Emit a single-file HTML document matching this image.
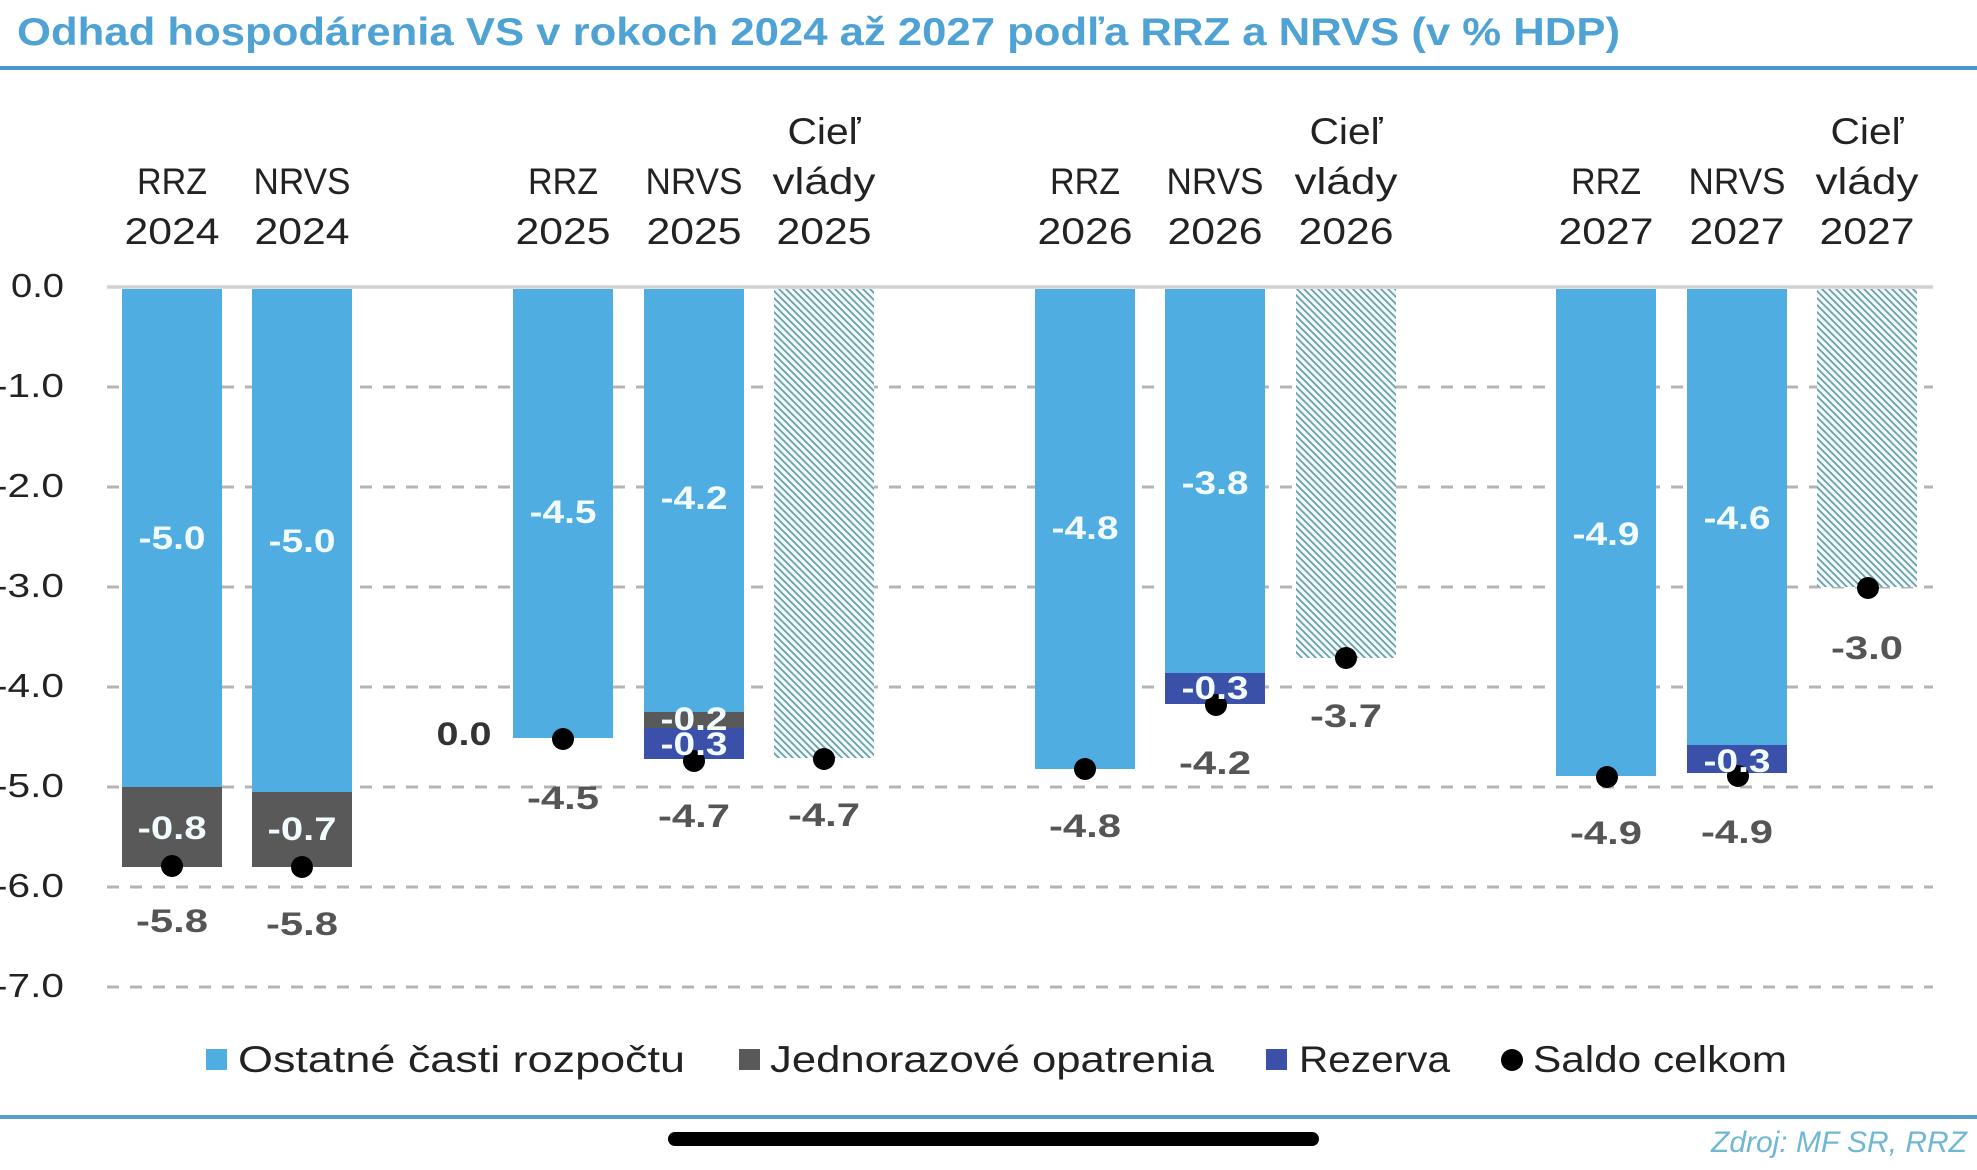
<!DOCTYPE html>
<html><head><meta charset="utf-8"><style>
html,body{margin:0;padding:0;background:#fff;}
svg{display:block;font-family:"Liberation Sans",sans-serif;}
</style></head><body>
<svg width="1977" height="1170" viewBox="0 0 1977 1170" xmlns="http://www.w3.org/2000/svg">
<defs>
<pattern id="hatch" patternUnits="userSpaceOnUse" width="7" height="7">
<rect width="7" height="7" fill="#effafc"/>
<path d="M-1,-1 L8,8 M-1,6 L1,8 M6,-1 L8,1" stroke="#6f9ea6" stroke-width="1.8"/>
</pattern>
</defs>
<rect width="1977" height="1170" fill="#fff"/>
<!-- Title -->
<text x="17" y="45" font-size="39" font-weight="bold" fill="#4ea2d4" textLength="1603" lengthAdjust="spacingAndGlyphs">Odhad hospodárenia VS v rokoch 2024 až 2027 podľa RRZ a NRVS (v % HDP)</text>
<rect x="0" y="66" width="1977" height="4" fill="#4a96c9"/>

<!-- Category labels -->
<g font-size="37" fill="#222" text-anchor="middle">
<text x="172" y="194" textLength="70" lengthAdjust="spacingAndGlyphs">RRZ</text>
<text x="172" y="244" textLength="95" lengthAdjust="spacingAndGlyphs">2024</text>
<text x="302" y="194" textLength="97" lengthAdjust="spacingAndGlyphs">NRVS</text>
<text x="302" y="244" textLength="95" lengthAdjust="spacingAndGlyphs">2024</text>

<text x="563" y="194" textLength="70" lengthAdjust="spacingAndGlyphs">RRZ</text>
<text x="563" y="244" textLength="95" lengthAdjust="spacingAndGlyphs">2025</text>
<text x="694" y="194" textLength="97" lengthAdjust="spacingAndGlyphs">NRVS</text>
<text x="694" y="244" textLength="95" lengthAdjust="spacingAndGlyphs">2025</text>
<text x="824" y="144" textLength="73" lengthAdjust="spacingAndGlyphs">Cieľ</text>
<text x="824" y="194" textLength="103" lengthAdjust="spacingAndGlyphs">vlády</text>
<text x="824" y="244" textLength="95" lengthAdjust="spacingAndGlyphs">2025</text>

<text x="1085" y="194" textLength="70" lengthAdjust="spacingAndGlyphs">RRZ</text>
<text x="1085" y="244" textLength="95" lengthAdjust="spacingAndGlyphs">2026</text>
<text x="1215" y="194" textLength="97" lengthAdjust="spacingAndGlyphs">NRVS</text>
<text x="1215" y="244" textLength="95" lengthAdjust="spacingAndGlyphs">2026</text>
<text x="1346" y="144" textLength="73" lengthAdjust="spacingAndGlyphs">Cieľ</text>
<text x="1346" y="194" textLength="103" lengthAdjust="spacingAndGlyphs">vlády</text>
<text x="1346" y="244" textLength="95" lengthAdjust="spacingAndGlyphs">2026</text>

<text x="1606" y="194" textLength="70" lengthAdjust="spacingAndGlyphs">RRZ</text>
<text x="1606" y="244" textLength="95" lengthAdjust="spacingAndGlyphs">2027</text>
<text x="1737" y="194" textLength="97" lengthAdjust="spacingAndGlyphs">NRVS</text>
<text x="1737" y="244" textLength="95" lengthAdjust="spacingAndGlyphs">2027</text>
<text x="1867" y="144" textLength="73" lengthAdjust="spacingAndGlyphs">Cieľ</text>
<text x="1867" y="194" textLength="103" lengthAdjust="spacingAndGlyphs">vlády</text>
<text x="1867" y="244" textLength="95" lengthAdjust="spacingAndGlyphs">2027</text>
</g>

<!-- Y axis labels -->
<g font-size="33" fill="#222" text-anchor="end">
<text x="64" y="297" textLength="53" lengthAdjust="spacingAndGlyphs">0.0</text>
<text x="64" y="397" textLength="70" lengthAdjust="spacingAndGlyphs">-1.0</text>
<text x="64" y="497" textLength="70" lengthAdjust="spacingAndGlyphs">-2.0</text>
<text x="64" y="597" textLength="70" lengthAdjust="spacingAndGlyphs">-3.0</text>
<text x="64" y="697" textLength="70" lengthAdjust="spacingAndGlyphs">-4.0</text>
<text x="64" y="797" textLength="70" lengthAdjust="spacingAndGlyphs">-5.0</text>
<text x="64" y="897" textLength="70" lengthAdjust="spacingAndGlyphs">-6.0</text>
<text x="64" y="997" textLength="70" lengthAdjust="spacingAndGlyphs">-7.0</text>
</g>

<!-- Gridlines -->
<line x1="107" y1="287" x2="1933" y2="287" stroke="#d2d2d2" stroke-width="3.5"/>
<g stroke="#b4b4b4" stroke-width="3" stroke-dasharray="12 11">
<line x1="107" y1="387" x2="1933" y2="387"/>
<line x1="107" y1="487" x2="1933" y2="487"/>
<line x1="107" y1="587" x2="1933" y2="587"/>
<line x1="107" y1="687" x2="1933" y2="687"/>
<line x1="107" y1="787" x2="1933" y2="787"/>
<line x1="107" y1="887" x2="1933" y2="887"/>
<line x1="107" y1="987" x2="1933" y2="987"/>
</g>

<!-- Bars -->
<g>
<rect x="122" y="289" width="100" height="498" fill="#4fade2"/>
<rect x="122" y="787" width="100" height="80" fill="#595959"/>
<rect x="252" y="289" width="100" height="503" fill="#4fade2"/>
<rect x="252" y="792" width="100" height="75" fill="#595959"/>
<rect x="513" y="289" width="100" height="449" fill="#4fade2"/>
<rect x="644" y="289" width="100" height="423" fill="#4fade2"/>
<rect x="644" y="712" width="100" height="16" fill="#595959"/>
<rect x="644" y="728" width="100" height="31" fill="#3b50a8"/>
<rect x="774" y="289" width="100" height="469" fill="url(#hatch)"/>
<rect x="1035" y="289" width="100" height="480" fill="#4fade2"/>
<rect x="1165" y="289" width="100" height="384" fill="#4fade2"/>
<rect x="1165" y="673" width="100" height="31" fill="#3b50a8"/>
<rect x="1296" y="289" width="100" height="369" fill="url(#hatch)"/>
<rect x="1556" y="289" width="100" height="487" fill="#4fade2"/>
<rect x="1687" y="289" width="100" height="456" fill="#4fade2"/>
<rect x="1687" y="745" width="100" height="28" fill="#3b50a8"/>
<rect x="1817" y="289" width="100" height="298" fill="url(#hatch)"/>
</g>

<!-- Inner labels -->
<g font-size="32" font-weight="bold" fill="#f2fcff" text-anchor="middle">
<text x="172" y="549" textLength="67" lengthAdjust="spacingAndGlyphs">-5.0</text>
<text x="302" y="552" textLength="67" lengthAdjust="spacingAndGlyphs">-5.0</text>
<text x="563" y="523" textLength="67" lengthAdjust="spacingAndGlyphs">-4.5</text>
<text x="694" y="509" textLength="67" lengthAdjust="spacingAndGlyphs">-4.2</text>
<text x="1085" y="539" textLength="67" lengthAdjust="spacingAndGlyphs">-4.8</text>
<text x="1215" y="494" textLength="67" lengthAdjust="spacingAndGlyphs">-3.8</text>
<text x="1606" y="545" textLength="67" lengthAdjust="spacingAndGlyphs">-4.9</text>
<text x="1737" y="529" textLength="67" lengthAdjust="spacingAndGlyphs">-4.6</text>
<text x="172" y="839" textLength="69" lengthAdjust="spacingAndGlyphs">-0.8</text>
<text x="302" y="840" textLength="69" lengthAdjust="spacingAndGlyphs">-0.7</text>
</g>

<!-- Dots -->
<g fill="#000">
<circle cx="172" cy="866" r="11"/>
<circle cx="302" cy="867" r="11"/>
<circle cx="563" cy="739" r="11"/>
<circle cx="694" cy="761" r="11"/>
<circle cx="824" cy="759" r="11"/>
<circle cx="1085" cy="769" r="11"/>
<circle cx="1216" cy="705" r="11"/>
<circle cx="1346" cy="658" r="11"/>
<circle cx="1607" cy="777" r="11"/>
<circle cx="1738" cy="776" r="11"/>
<circle cx="1868" cy="588" r="11"/>
</g>

<!-- Small segment labels drawn over dots -->
<g font-size="32" font-weight="bold" fill="#f2fcff" text-anchor="middle">
<text x="694" y="730" textLength="67" lengthAdjust="spacingAndGlyphs">-0.2</text>
<text x="694" y="755" textLength="67" lengthAdjust="spacingAndGlyphs">-0.3</text>
<text x="1215" y="699" textLength="67" lengthAdjust="spacingAndGlyphs">-0.3</text>
<text x="1737" y="772" textLength="67" lengthAdjust="spacingAndGlyphs">-0.3</text>
</g>

<!-- Outer labels -->
<g font-size="32" font-weight="bold" fill="#555" text-anchor="middle">
<text x="172" y="932" textLength="72" lengthAdjust="spacingAndGlyphs">-5.8</text>
<text x="302" y="935" textLength="72" lengthAdjust="spacingAndGlyphs">-5.8</text>
<text x="563" y="809" textLength="72" lengthAdjust="spacingAndGlyphs">-4.5</text>
<text x="694" y="827" textLength="72" lengthAdjust="spacingAndGlyphs">-4.7</text>
<text x="824" y="826" textLength="72" lengthAdjust="spacingAndGlyphs">-4.7</text>
<text x="1085" y="837" textLength="72" lengthAdjust="spacingAndGlyphs">-4.8</text>
<text x="1215" y="774" textLength="72" lengthAdjust="spacingAndGlyphs">-4.2</text>
<text x="1346" y="727" textLength="72" lengthAdjust="spacingAndGlyphs">-3.7</text>
<text x="1606" y="844" textLength="72" lengthAdjust="spacingAndGlyphs">-4.9</text>
<text x="1737" y="843" textLength="72" lengthAdjust="spacingAndGlyphs">-4.9</text>
<text x="1867" y="659" textLength="72" lengthAdjust="spacingAndGlyphs">-3.0</text>
</g>
<text x="464" y="745" font-size="32" font-weight="bold" fill="#333" text-anchor="middle" textLength="55" lengthAdjust="spacingAndGlyphs">0.0</text>

<!-- Legend -->
<rect x="206" y="1049" width="21" height="21" fill="#4fade2"/>
<text x="238" y="1072" font-size="37" fill="#222" textLength="447" lengthAdjust="spacingAndGlyphs">Ostatné časti rozpočtu</text>
<rect x="739" y="1049" width="21" height="21" fill="#595959"/>
<text x="770" y="1072" font-size="37" fill="#222" textLength="444" lengthAdjust="spacingAndGlyphs">Jednorazové opatrenia</text>
<rect x="1266" y="1049" width="21" height="21" fill="#3b50a8"/>
<text x="1299" y="1072" font-size="37" fill="#222" textLength="151" lengthAdjust="spacingAndGlyphs">Rezerva</text>
<circle cx="1512" cy="1060" r="11" fill="#000"/>
<text x="1533" y="1072" font-size="37" fill="#222" textLength="254" lengthAdjust="spacingAndGlyphs">Saldo celkom</text>

<!-- Bottom rule & source -->
<rect x="0" y="1115" width="1977" height="4" fill="#5a9fc4"/>
<rect x="668" y="1132" width="651" height="14" rx="7" fill="#000"/>
<text x="1711" y="1152" font-size="30" font-style="italic" fill="#6fb7d4" textLength="256" lengthAdjust="spacingAndGlyphs">Zdroj: MF SR, RRZ</text>
</svg>
</body></html>
